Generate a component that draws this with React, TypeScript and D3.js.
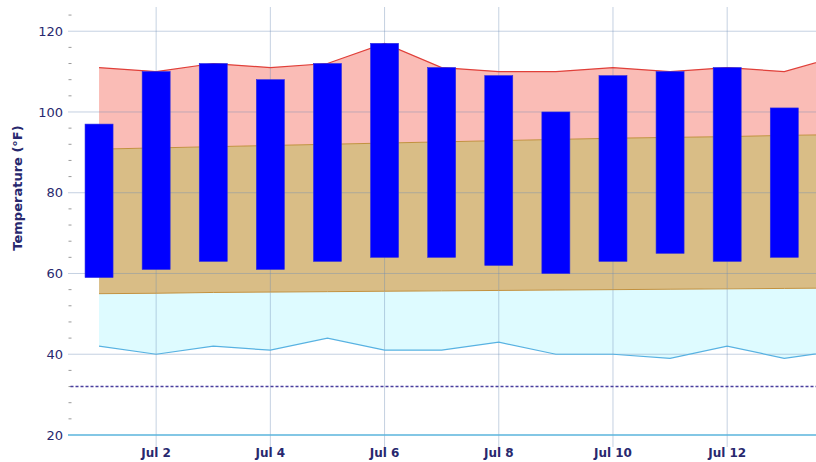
import React from "react";
import * as d3 from "d3";

const dayLabels = ["Jul 1","Jul 2","Jul 3","Jul 4","Jul 5","Jul 6","Jul 7","Jul 8","Jul 9","Jul 10","Jul 11","Jul 12","Jul 13","Jul 14"];
const recordHigh = [111, 110, 112, 111, 112, 117, 111, 110, 110, 111, 110, 111, 110, 114];
const normalHigh = [90.8, 91.1, 91.4, 91.7, 92.0, 92.3, 92.6, 92.9, 93.2, 93.5, 93.7, 93.9, 94.2, 94.4];
const normalLow = [55.0, 55.1, 55.3, 55.4, 55.5, 55.6, 55.7, 55.8, 55.9, 56.0, 56.1, 56.2, 56.3, 56.4];
const recordLow = [42, 40, 42, 41, 44, 41, 41, 43, 40, 40, 39, 42, 39, 41];
const actualHigh = [97, 110, 112, 108, 112, 117, 111, 109, 100, 109, 110, 111, 101];
const actualLow = [59, 61, 63, 61, 63, 64, 64, 62, 60, 63, 65, 63, 64];
const yMajorTicks = [20, 40, 60, 80, 100, 120];
const yMinorTicks = [24, 28, 32, 36, 44, 48, 52, 56, 64, 68, 72, 76, 84, 88, 92, 96, 104, 108, 112, 116, 124];
const xTickLabels = ["Jul 2", "Jul 4", "Jul 6", "Jul 8", "Jul 10", "Jul 12"];
const freezing = 32;

const W = 816, H = 462;
const parse = (s: string) => d3.timeParse("%b %d %Y")(s + " 2023") as Date;
const dates = dayLabels.map(parse);

export default function App() {
  const left = 70.5, right = 816, top = 7, bottom = 435;
  const x = d3.scaleTime()
    .domain([new Date(2023, 5, 30, 12), new Date(2023, 6, 13, 13, 20)])
    .range([left, right]);
  const y = d3.scaleLinear().domain([20, 126]).range([bottom, top]);

  const idx = d3.range(dates.length);
  const band = (lo: number[], hi: number[]) =>
    d3.area<number>().x(i => x(dates[i])).y0(i => y(lo[i])).y1(i => y(hi[i]))(idx) || "";
  const line = (v: number[]) => d3.line<number>().x(i => x(dates[i])).y(i => y(v[i]))(idx) || "";
  const barW = 28;
  const navy = "#28286e";

  return (
    <div style={{ position: "absolute", left: 0, top: 0 }}>
      <svg width={W} height={H} style={{ display: "block", fontFamily: "'DejaVu Sans', sans-serif" }}>
        <defs>
          <clipPath id="plot"><rect x={left} y={0} width={right - left} height={bottom + 1} /></clipPath>
        </defs>
        <g clipPath="url(#plot)">
          <path d={band(normalHigh, recordHigh)} fill="#fabcb6" />
          <path d={band(normalLow, normalHigh)} fill="#d9bd86" />
          <path d={band(recordLow, normalLow)} fill="#defbff" />
        </g>
        {yMajorTicks.filter(v => v !== 20).map(v => (
          <line key={v} x1={68} x2={right} y1={y(v)} y2={y(v)} stroke="rgba(110,140,180,0.4)" strokeWidth={1} />
        ))}
        {xTickLabels.map(l => {
          const xx = x(parse(l));
          return <line key={l} x1={xx} x2={xx} y1={top} y2={447} stroke="rgba(110,140,180,0.4)" strokeWidth={1} />;
        })}
        {yMinorTicks.map(v => (
          <line key={v} x1={68.5} x2={71.5} y1={y(v)} y2={y(v)} stroke="#9a9a9a" strokeWidth={1} />
        ))}
        <g clipPath="url(#plot)" fill="none">
          <path d={line(recordHigh)} stroke="#e0403a" strokeWidth={1.2} />
          <path d={line(normalHigh)} stroke="#c2913f" strokeWidth={1} />
          <path d={line(normalLow)} stroke="#c2913f" strokeWidth={1} />
          <path d={line(recordLow)} stroke="#58b2e2" strokeWidth={1.2} />
        </g>
        <line x1={left} x2={right} y1={y(freezing)} y2={y(freezing)} stroke="#4a3f9e" strokeWidth={1.4} strokeDasharray="3,2" />
        <line x1={68} x2={right} y1={y(20)} y2={y(20)} stroke="#5ab4dc" strokeWidth={1.4} />
        {actualHigh.map((hv, i) => (
          <rect key={i} x={x(dates[i]) - barW / 2} y={y(hv)} width={barW} height={y(actualLow[i]) - y(hv)}
            fill="#0000ff" stroke="#2a2ae0" strokeWidth={0.6} />
        ))}
        {yMajorTicks.map(v => (
          <text key={v} x={63} y={y(v)} dy="0.35em" textAnchor="end" fontSize={13} fill={navy}>{v}</text>
        ))}
        {xTickLabels.map(l => (
          <text key={l} x={x(parse(l))} y={457} textAnchor="middle" fontSize={12} fontWeight="bold" fill={navy}>{l}</text>
        ))}
        <text transform={`translate(22,${188}) rotate(-90)`} textAnchor="middle" fontSize={13} fontWeight="bold" fill={navy}>
          Temperature (°F)
        </text>
      </svg>
    </div>
  );
}
